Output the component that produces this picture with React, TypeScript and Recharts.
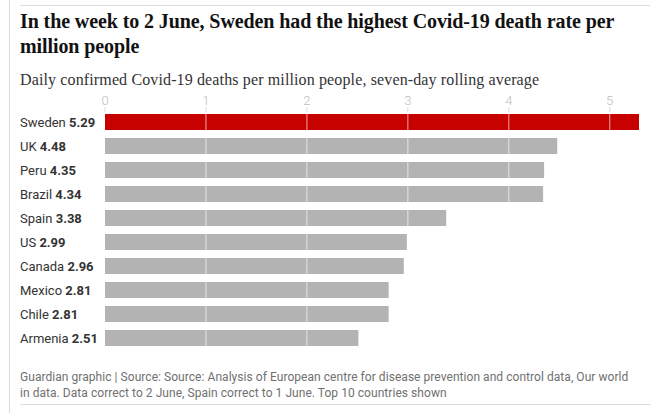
import React from 'react';
import { BarChart, Bar, XAxis, YAxis, ReferenceLine, Cell } from 'recharts';

document.body.style.margin = '0';

const countries = ['Sweden', 'UK', 'Peru', 'Brazil', 'Spain', 'US', 'Canada', 'Mexico', 'Chile', 'Armenia'];
const deathRates = [5.29, 4.48, 4.35, 4.34, 3.38, 2.99, 2.96, 2.81, 2.81, 2.51];
const xTicks = [0, 1, 2, 3, 4, 5];

const data = countries.map((country, i) => ({ country, rate: deathRates[i] }));

const sans = 'Roboto, "Noto Sans", sans-serif';

const CountryTick = (props: any) => {
  const { y, payload } = props;
  const row = data.find((d) => d.country === payload.value);
  return (
    <text x={20} y={y} dy={4.5} fontSize={13} fontFamily={sans} fill="#333" textAnchor="start">
      {payload.value} <tspan fontWeight={700}>{row ? row.rate.toFixed(2) : ''}</tspan>
    </text>
  );
};

const ValueTick = (props: any) => {
  const { x, y, payload } = props;
  return (
    <g>
      <text x={x} y={y + 1} fontSize={13} fontFamily={sans} fontWeight={300} fill="#bdbdbd" textAnchor="middle">
        {payload.value}
      </text>
      <line x1={x} x2={x} y1={y + 3} y2={y + 8} stroke="#dcdcdc" strokeWidth={1} />
    </g>
  );
};

export default function App() {
  return (
    <div style={{ position: 'relative', width: 650, height: 413, background: '#fff', overflow: 'hidden' }}>
      {/* frame lines */}
      <div style={{ position: 'absolute', left: 9, top: 0, width: 1, height: 413, background: '#dcdcdc' }} />
      <div style={{ position: 'absolute', left: 20, top: 5, width: 630, height: 1, background: '#dcdcdc' }} />
      <div style={{ position: 'absolute', left: 20, top: 404, width: 630, height: 1, background: '#dcdcdc' }} />

      <div
        style={{
          position: 'absolute',
          left: 20,
          top: 9,
          fontFamily: '"Liberation Serif", serif',
          fontWeight: 700,
          fontSize: 20,
          lineHeight: '25px',
          color: '#121212',
          letterSpacing: '-0.1px',
          whiteSpace: 'nowrap',
        }}
      >
        In the week to 2 June, Sweden had the highest Covid-19 death rate per
        <br />
        million people
      </div>

      <div
        style={{
          position: 'absolute',
          left: 20,
          top: 70,
          fontFamily: '"Liberation Serif", serif',
          fontSize: 16,
          lineHeight: '20px',
          color: '#333',
          letterSpacing: '0.13px',
          whiteSpace: 'nowrap',
        }}
      >
        Daily confirmed Covid-19 deaths per million people, seven-day rolling average
      </div>

      <div style={{ position: 'absolute', left: 0, top: 88 }}>
        <BarChart
          width={650}
          height={262}
          data={data}
          layout="vertical"
          margin={{ top: 0, right: 11, left: 0, bottom: 0 }}
          barCategoryGap={4}
        >
          <XAxis
            type="number"
            orientation="top"
            domain={[0, 5.29]}
            ticks={xTicks}
            height={22}
            axisLine={false}
            tickLine={false}
            tick={<ValueTick />}
            tickMargin={0}
            allowDataOverflow
          />
          <YAxis
            type="category"
            dataKey="country"
            width={105}
            axisLine={false}
            tickLine={false}
            tick={<CountryTick />}
            interval={0}
          />
          <Bar dataKey="rate" isAnimationActive={false} barSize={16}>
            {data.map((d, i) => (
              <Cell key={d.country} fill={i === 0 ? '#c70000' : '#b3b3b3'} />
            ))}
          </Bar>
          {xTicks.slice(1).map((t) => (
            <ReferenceLine key={t} x={t} stroke="#ffffff" strokeOpacity={0.55} strokeWidth={1.2} />
          ))}
        </BarChart>
      </div>

      <div
        style={{
          position: 'absolute',
          left: 20,
          top: 369,
          fontFamily: sans,
          fontSize: 12,
          lineHeight: '16px',
          color: '#707070',
          letterSpacing: '0.05px',
          whiteSpace: 'nowrap',
        }}
      >
        Guardian graphic | Source: Source: Analysis of European centre for disease prevention and control data, Our world
        <br />
        in data. Data correct to 2 June, Spain correct to 1 June. Top 10 countries shown
      </div>
    </div>
  );
}
